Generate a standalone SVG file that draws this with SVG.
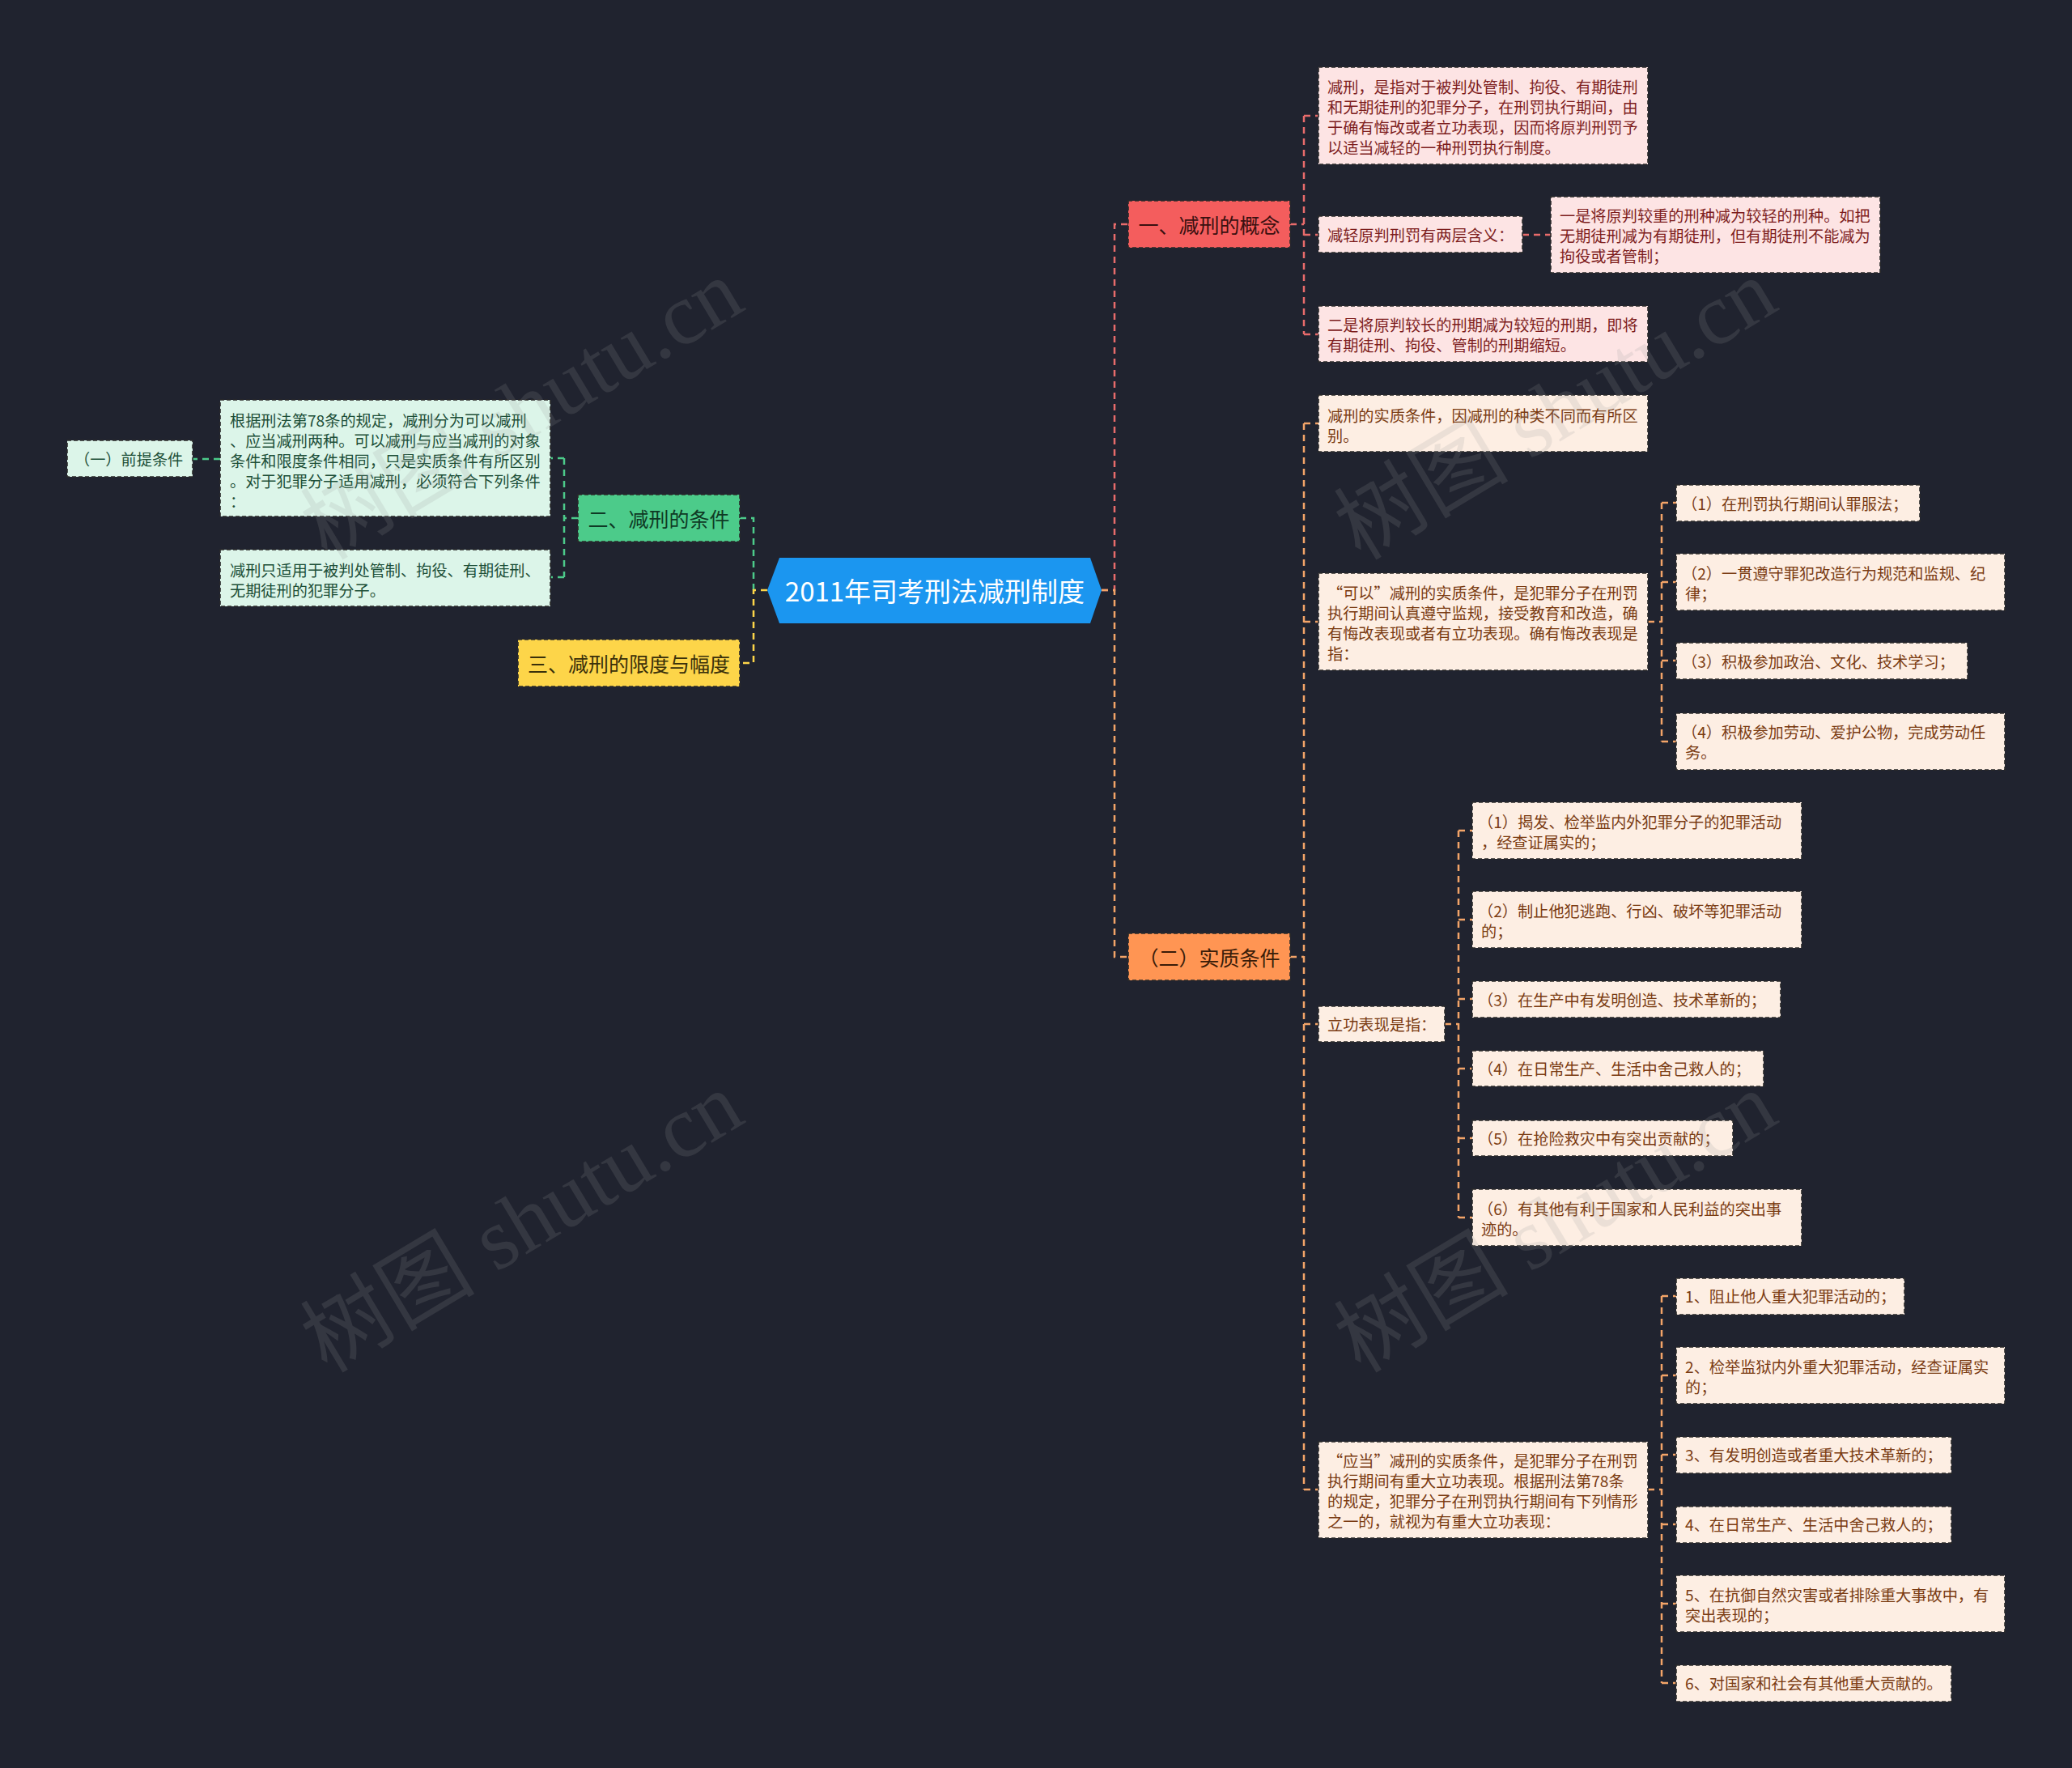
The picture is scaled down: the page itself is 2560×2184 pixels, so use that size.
<svg xmlns="http://www.w3.org/2000/svg" width="2560" height="2184" viewBox="0 0 2560 2184">
<style>
text{font-family:"Noto Sans CJK SC","Noto Sans",sans-serif;dominant-baseline:central}
.c{stroke-width:2.5;fill:none;stroke-dasharray:8 6}
.cr{stroke:#e86b6b}.co{stroke:#f3a468}.cg{stroke:#4ccb8a}.cy{stroke:#fdd549}
.bd{stroke:#2a2a2a;stroke-width:1.6;stroke-dasharray:5 3}
.lr{fill:#fde4e4}.lo{fill:#fdeee3}.lg{fill:#dcf5e9}
.tr{fill:#7d1d1d;font-size:19.2px}.to{fill:#7a3b12;font-size:19.2px}.tg{fill:#1d4f38;font-size:19.2px}
.t1{font-size:25px;text-anchor:middle}
.wm{font-family:"Liberation Serif","Noto Sans CJK SC",serif;font-size:108px;fill:#9a9a9a;opacity:0.17;text-anchor:middle}
</style>
<rect width="2560" height="2184" fill="#20232f"/>
<g id="connectors">
<path class="c cg" d="M931,729 V640 H914"/>
<path class="c cy" d="M948,729 H931 V819 H914"/>
<path class="c cg" d="M714,640 H697 M697,566 V713 M697,566 H680 M697,713 H680"/>
<path class="c cg" d="M272,567 H238"/>
<path class="c cr" d="M1361,729 H1377 V277 H1394"/>
<path class="c co" d="M1361,729 H1377 V1182 H1394"/>
<path class="c cr" d="M1594,277 H1611 M1611,143 V413 M1611,143 H1629 M1611,290 H1629 M1611,413 H1629 M1881,290 H1916"/>
<path class="c co" d="M1594,1182 H1611 M1611,523 V1840 M1611,523 H1629 M1611,768 H1629 M1611,1265 H1629 M1611,1840 H1629"/>
<path class="c co" d="M2036,768 H2053 M2053,621 V916 M2053,621 H2071 M2053,719 H2071 M2053,816 H2071 M2053,916 H2071"/>
<path class="c co" d="M1785,1265 H1802 M1802,1026 V1504 M1802,1026 H1819 M1802,1136 H1819 M1802,1234 H1819 M1802,1320 H1819 M1802,1406 H1819 M1802,1504 H1819"/>
<path class="c co" d="M2036,1840 H2053 M2053,1601 V2079 M2053,1601 H2071 M2053,1699 H2071 M2053,1797 H2071 M2053,1883 H2071 M2053,1981 H2071 M2053,2079 H2071"/>
</g>
<g id="root">
<polygon points="948,729 963,689 1347,689 1361,729 1347,770 963,770" fill="#1b96f0"/>
<text x="1155" y="729" font-size="33" fill="#ffffff" text-anchor="middle">2011年司考刑法减刑制度</text>
</g>
<g id="n-concept">
<rect x="1394" y="248" width="200" height="58" fill="#f45d5d" class="bd"/>
<text class="t1" x="1494" y="277" fill="#3a1010">一、减刑的概念</text>
</g>
<g id="n-substance">
<rect x="1394" y="1153" width="200" height="58" fill="#ff9553" class="bd"/>
<text class="t1" x="1494" y="1182" fill="#3a1c08">（二）实质条件</text>
</g>
<g id="n-conditions">
<rect x="714" y="611" width="200" height="58" fill="#4ccb8a" class="bd"/>
<text class="t1" x="814" y="640" fill="#0f3a25">二、减刑的条件</text>
</g>
<g id="n-limits">
<rect x="640" y="790" width="274" height="58" fill="#fdd549" class="bd"/>
<text class="t1" x="777" y="819" fill="#3a300a">三、减刑的限度与幅度</text>
</g>
<g id="n-premise">
<rect x="83" y="544" width="155" height="45" class="lg bd"/>
<text class="tg" x="92" y="567">（一）前提条件</text>
</g>
<g id="n-left1">
<rect x="272" y="494" width="408" height="144" class="lg bd"/>
<text class="tg" x="284" y="519">根据刑法第78条的规定，减刑分为可以减刑</text>
<text class="tg" x="284" y="544">、应当减刑两种。可以减刑与应当减刑的对象</text>
<text class="tg" x="284" y="569">条件和限度条件相同，只是实质条件有所区别</text>
<text class="tg" x="284" y="594">。对于犯罪分子适用减刑，必须符合下列条件</text>
<text class="tg" x="284" y="619">：</text>
</g>
<g id="n-left2">
<rect x="272" y="679" width="408" height="70" class="lg bd"/>
<text class="tg" x="284" y="704">减刑只适用于被判处管制、拘役、有期徒刑、</text>
<text class="tg" x="284" y="729">无期徒刑的犯罪分子。</text>
</g>
<g id="n-a">
<rect x="1629" y="83" width="407" height="120" class="lr bd"/>
<text class="tr" x="1640" y="107">减刑，是指对于被判处管制、拘役、有期徒刑</text>
<text class="tr" x="1640" y="132">和无期徒刑的犯罪分子，在刑罚执行期间，由</text>
<text class="tr" x="1640" y="157">于确有悔改或者立功表现，因而将原判刑罚予</text>
<text class="tr" x="1640" y="182">以适当减轻的一种刑罚执行制度。</text>
</g>
<g id="n-b">
<rect x="1629" y="267" width="252" height="45" class="lr bd"/>
<text class="tr" x="1640" y="290">减轻原判刑罚有两层含义：</text>
</g>
<g id="n-c">
<rect x="1916" y="243" width="407" height="94" class="lr bd"/>
<text class="tr" x="1927" y="266">一是将原判较重的刑种减为较轻的刑种。如把</text>
<text class="tr" x="1927" y="291">无期徒刑减为有期徒刑，但有期徒刑不能减为</text>
<text class="tr" x="1927" y="316">拘役或者管制；</text>
</g>
<g id="n-d">
<rect x="1629" y="378" width="407" height="69" class="lr bd"/>
<text class="tr" x="1640" y="401">二是将原判较长的刑期减为较短的刑期，即将</text>
<text class="tr" x="1640" y="426">有期徒刑、拘役、管制的刑期缩短。</text>
</g>
<g id="n-e">
<rect x="1629" y="488" width="407" height="70" class="lo bd"/>
<text class="to" x="1640" y="513">减刑的实质条件，因减刑的种类不同而有所区</text>
<text class="to" x="1640" y="538">别。</text>
</g>
<g id="n-f">
<rect x="1629" y="708" width="407" height="120" class="lo bd"/>
<text class="to" x="1640" y="732">“可以”减刑的实质条件，是犯罪分子在刑罚</text>
<text class="to" x="1640" y="757">执行期间认真遵守监规，接受教育和改造，确</text>
<text class="to" x="1640" y="782">有悔改表现或者有立功表现。确有悔改表现是</text>
<text class="to" x="1640" y="807">指：</text>
</g>
<g id="n-f1">
<rect x="2071" y="599" width="301" height="45" class="lo bd"/>
<text class="to" x="2078" y="622">（1）在刑罚执行期间认罪服法；</text>
</g>
<g id="n-f2">
<rect x="2071" y="684" width="406" height="70" class="lo bd"/>
<text class="to" x="2078" y="708">（2）一贯遵守罪犯改造行为规范和监规、纪</text>
<text class="to" x="2082" y="733">律；</text>
</g>
<g id="n-f3">
<rect x="2071" y="794" width="360" height="45" class="lo bd"/>
<text class="to" x="2078" y="817">（3）积极参加政治、文化、技术学习；</text>
</g>
<g id="n-f4">
<rect x="2071" y="881" width="406" height="70" class="lo bd"/>
<text class="to" x="2078" y="904">（4）积极参加劳动、爱护公物，完成劳动任</text>
<text class="to" x="2082" y="929">务。</text>
</g>
<g id="n-g">
<rect x="1629" y="1243" width="156" height="44" class="lo bd"/>
<text class="to" x="1640" y="1265">立功表现是指：</text>
</g>
<g id="n-g1">
<rect x="1819" y="991" width="407" height="70" class="lo bd"/>
<text class="to" x="1826" y="1015">（1）揭发、检举监内外犯罪分子的犯罪活动</text>
<text class="to" x="1830" y="1040">，经查证属实的；</text>
</g>
<g id="n-g2">
<rect x="1819" y="1101" width="407" height="70" class="lo bd"/>
<text class="to" x="1826" y="1125">（2）制止他犯逃跑、行凶、破坏等犯罪活动</text>
<text class="to" x="1830" y="1150">的；</text>
</g>
<g id="n-g3">
<rect x="1819" y="1212" width="381" height="45" class="lo bd"/>
<text class="to" x="1826" y="1235">（3）在生产中有发明创造、技术革新的；</text>
</g>
<g id="n-g4">
<rect x="1819" y="1298" width="360" height="44" class="lo bd"/>
<text class="to" x="1826" y="1320">（4）在日常生产、生活中舍己救人的；</text>
</g>
<g id="n-g5">
<rect x="1819" y="1384" width="322" height="44" class="lo bd"/>
<text class="to" x="1826" y="1406">（5）在抢险救灾中有突出贡献的；</text>
</g>
<g id="n-g6">
<rect x="1819" y="1469" width="407" height="70" class="lo bd"/>
<text class="to" x="1826" y="1493">（6）有其他有利于国家和人民利益的突出事</text>
<text class="to" x="1830" y="1518">迹的。</text>
</g>
<g id="n-h">
<rect x="1629" y="1781" width="407" height="119" class="lo bd"/>
<text class="to" x="1640" y="1804">“应当”减刑的实质条件，是犯罪分子在刑罚</text>
<text class="to" x="1640" y="1829">执行期间有重大立功表现。根据刑法第78条</text>
<text class="to" x="1640" y="1854">的规定，犯罪分子在刑罚执行期间有下列情形</text>
<text class="to" x="1640" y="1879">之一的，就视为有重大立功表现：</text>
</g>
<g id="n-h1">
<rect x="2071" y="1579" width="282" height="45" class="lo bd"/>
<text class="to" x="2082" y="1601">1、阻止他人重大犯罪活动的；</text>
</g>
<g id="n-h2">
<rect x="2071" y="1664" width="406" height="70" class="lo bd"/>
<text class="to" x="2082" y="1688">2、检举监狱内外重大犯罪活动，经查证属实</text>
<text class="to" x="2082" y="1713">的；</text>
</g>
<g id="n-h3">
<rect x="2071" y="1775" width="340" height="45" class="lo bd"/>
<text class="to" x="2082" y="1797">3、有发明创造或者重大技术革新的；</text>
</g>
<g id="n-h4">
<rect x="2071" y="1861" width="340" height="45" class="lo bd"/>
<text class="to" x="2082" y="1883">4、在日常生产、生活中舍己救人的；</text>
</g>
<g id="n-h5">
<rect x="2071" y="1946" width="406" height="70" class="lo bd"/>
<text class="to" x="2082" y="1970">5、在抗御自然灾害或者排除重大事故中，有</text>
<text class="to" x="2082" y="1995">突出表现的；</text>
</g>
<g id="n-h6">
<rect x="2071" y="2057" width="340" height="45" class="lo bd"/>
<text class="to" x="2082" y="2079">6、对国家和社会有其他重大贡献的。</text>
</g>
<g id="watermark">
<text class="wm" transform="translate(645,506) rotate(-31)">树图 shutu.cn</text>
<text class="wm" transform="translate(645,1510) rotate(-31)">树图 shutu.cn</text>
<text class="wm" transform="translate(1922,506) rotate(-31)">树图 shutu.cn</text>
<text class="wm" transform="translate(1922,1510) rotate(-31)">树图 shutu.cn</text>
</g>
</svg>
